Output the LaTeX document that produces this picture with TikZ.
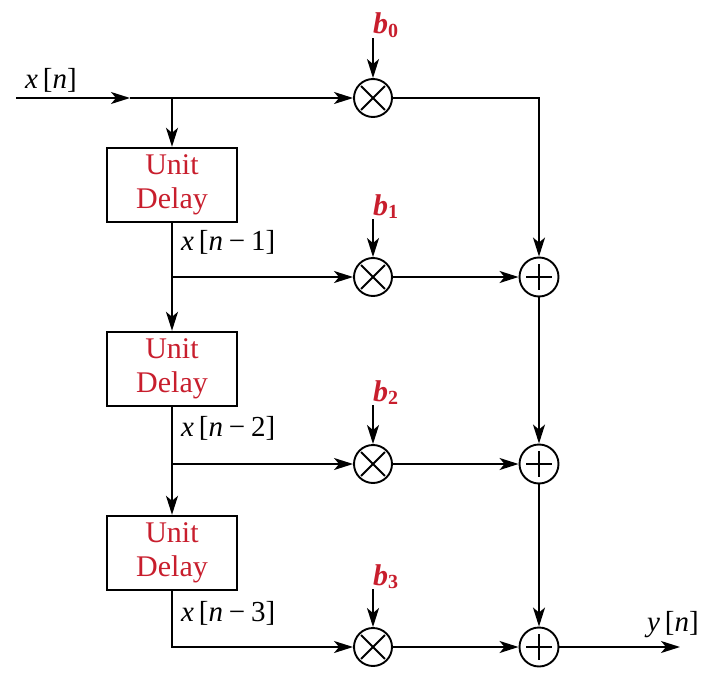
\documentclass[tikz,border=0pt]{standalone}
\usepackage{fontspec}
\setmainfont{Liberation Serif}
\usetikzlibrary{arrows.meta,calc}
\definecolor{delayred}{RGB}{200,30,45}
\begin{document}
\begin{tikzpicture}[x=1pt,y=-1pt,
  wire/.style={line width=1.7pt},
  arr/.style={wire,-{Stealth[length=19pt,width=12pt,inset=5pt]}},
  delaybox/.style={draw,line width=2.4pt,minimum width=130pt,minimum height=74pt,
    align=center,inner sep=0pt,font=\fontsize{30}{34}\selectfont,text=delayred},
  mult/.style={circle,draw,line width=1.9pt,minimum size=38pt,inner sep=0pt},
  adder/.style={circle,draw,line width=1.9pt,minimum size=39pt,inner sep=0pt},
  sig/.style={inner sep=1pt,anchor=base west,font=\fontsize{29}{32}\selectfont},
  coef/.style={inner sep=1pt,anchor=base west,text=delayred,font=\fontsize{30}{30}\selectfont\bfseries},
]
\useasboundingbox (0,0) rectangle (705,680);

% multipliers and adders
\node[mult] (m0) at (373,98) {};
\node[mult] (m1) at (373,277) {};
\node[mult] (m2) at (373,464) {};
\node[mult] (m3) at (373,647) {};
\node[adder] (a1) at (539,277) {};
\node[adder] (a2) at (539,464) {};
\node[adder] (a3) at (539,647) {};
\foreach \m in {m0,m1,m2,m3}{
  \draw[line width=1.9pt] ($(\m.center)!0.85!(\m.north west)$) -- ($(\m.center)!0.85!(\m.south east)$);
  \draw[line width=1.9pt] ($(\m.center)!0.85!(\m.north east)$) -- ($(\m.center)!0.85!(\m.south west)$);
}
\foreach \a in {a1,a2,a3}{
  \draw[line width=1.9pt] ($(\a.center)!0.62!(\a.north)$) -- ($(\a.center)!0.62!(\a.south)$);
  \draw[line width=1.9pt] ($(\a.center)!0.62!(\a.west)$) -- ($(\a.center)!0.62!(\a.east)$);
}

% delay blocks
\node[delaybox] (d1) at (172,185) {Unit\\Delay};
\node[delaybox] (d2) at (172,369) {Unit\\Delay};
\node[delaybox] (d3) at (172,553) {Unit\\Delay};

% taps and branch points
\coordinate (in) at (16,98);
\coordinate (inmid) at (130,98);
\coordinate (j0) at (172,98);
\coordinate (j1) at (172,277);
\coordinate (j2) at (172,464);
\coordinate (yout) at (680,647);

% signal labels
\node[sig] (lx) at (24,88) {\textit{x}\,[\textit{n}]};
\node[sig] (lx1) at (180,250) {\textit{x}\,[\textit{n}\hspace{0.2em}−\hspace{0.2em}1]};
\node[sig] (lx2) at (180,436) {\textit{x}\,[\textit{n}\hspace{0.2em}−\hspace{0.2em}2]};
\node[sig] (lx3) at (180,621) {\textit{x}\,[\textit{n}\hspace{0.2em}−\hspace{0.2em}3]};
\node[sig] (ly) at (646,631) {\textit{y}\,[\textit{n}]};

% coefficients
\node[coef] (b0) at (372,34) {\textit{b}\raisebox{-3pt}{\fontsize{20}{20}\selectfont 0}};
\node[coef] (b1) at (372,215) {\textit{b}\raisebox{-3pt}{\fontsize{20}{20}\selectfont 1}};
\node[coef] (b2) at (372,401) {\textit{b}\raisebox{-3pt}{\fontsize{20}{20}\selectfont 2}};
\node[coef] (b3) at (372,585) {\textit{b}\raisebox{-3pt}{\fontsize{20}{20}\selectfont 3}};
\foreach \b/\m in {b0/m0,b1/m1,b2/m2,b3/m3}
  \draw[arr] (\b.south -| \m.north) -- (\m.north);

% delay line
\draw[arr] (in) -- (inmid);
\draw[arr] (inmid) -- (m0.west);
\draw[arr] (j0) -- (d1.north);
\draw[wire] (d1.south) -- (j1);
\draw[arr] (j1) -- (d2.north);
\draw[arr] (j1) -- (m1.west);
\draw[wire] (d2.south) -- (j2);
\draw[arr] (j2) -- (d3.north);
\draw[arr] (j2) -- (m2.west);
\draw[arr] (d3.south) |- (m3.west);

% products into the adder chain
\draw[arr] (m0.east) -| (a1.north);
\draw[arr] (m1.east) -- (a1.west);
\draw[arr] (m2.east) -- (a2.west);
\draw[arr] (m3.east) -- (a3.west);
\draw[arr] (a1.south) -- (a2.north);
\draw[arr] (a2.south) -- (a3.north);
\draw[arr] (a3.east) -- (yout);
\end{tikzpicture}
\end{document}
